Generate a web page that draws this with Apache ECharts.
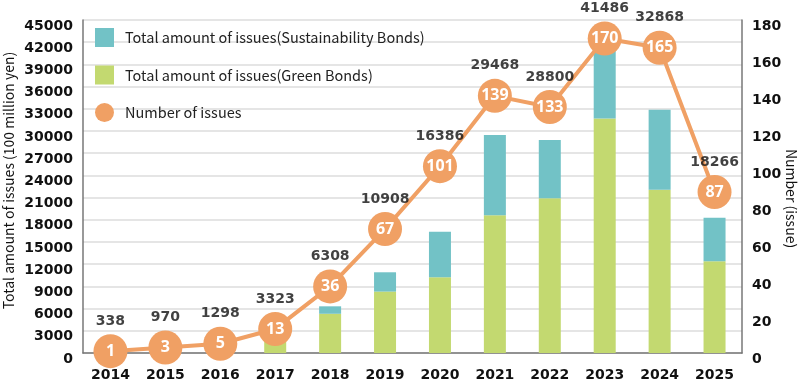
<!DOCTYPE html>
<html>
<head>
<meta charset="utf-8">
<script src="https://cdn.jsdelivr.net/npm/echarts@6/dist/echarts.min.js"></script>
<style>
  html, body { margin: 0; padding: 0; background: #fff; }
  #chart { width: 800px; height: 388px; }
</style>
</head>
<body>
<div id="chart"></div>
<script>
var years = ['2014', '2015', '2016', '2017', '2018', '2019', '2020', '2021', '2022', '2023', '2024', '2025'];
var greenBonds = [338, 970, 1298, 3323, 5300, 8300, 10250, 18600, 20900, 31700, 22050, 12400];
var sustainBonds = [0, 0, 0, 0, 1008, 2608, 6136, 10868, 7900, 9786, 10818, 5866];
var totals = [338, 970, 1298, 3323, 6308, 10908, 16386, 29468, 28800, 41486, 32868, 18266];
var issueCounts = [1, 3, 5, 13, 36, 67, 101, 139, 133, 170, 165, 87];

var FONT = '"Noto Sans CJK JP", "Noto Sans", sans-serif';
var NUM_FONT = '"DejaVu Sans", sans-serif';
var C_SUS = '#72c2c6', C_GREEN = '#c3d970', C_ORANGE = '#f0a064';

var chart = echarts.init(document.getElementById('chart'));

var valueLabel = {
    color: '#111', fontSize: 14, fontWeight: 'bold', margin: 10, fontFamily: NUM_FONT,
    verticalAlign: 'top', lineHeight: 12,
    formatter: function (v) { return String(v); }
};

var option = {
    animation: false,
    textStyle: {fontFamily: FONT},
    grid: {left: 83, right: 58, top: 20, bottom: 35, containLabel: false, outerBoundsMode: 'none'},
    legend: {
        orient: 'vertical', left: 90, top: 23, itemWidth: 19, itemHeight: 19, itemGap: 18.5,
        textStyle: {fontFamily: FONT, fontSize: 14.5, color: '#222', padding: [0, 0, 0, 6]},
        data: [
            {name: 'Total amount of issues(Sustainability Bonds)', icon: 'rect'},
            {name: 'Total amount of issues(Green Bonds)', icon: 'rect'},
            {name: 'Number of issues', icon: 'circle'}
        ]
    },
    xAxis: [{
        type: 'category', data: years,
        axisLine: {lineStyle: {color: '#777', width: 1.5}},
        axisTick: {inside: true, length: 7, lineStyle: {color: '#777'}},
        axisLabel: {color: '#111', fontSize: 14, fontWeight: 'bold', margin: 15, fontFamily: NUM_FONT}
    }],
    yAxis: [{
        type: 'value', min: 0, max: 45000, interval: 3000,
        name: 'Total amount of issues (100 million yen)', nameLocation: 'middle', nameGap: 67, nameMoveOverlap: false,
        nameTextStyle: {fontSize: 14, color: '#111', fontFamily: FONT, padding: [0, 0, 0, 12]},
        axisLine: {show: true, lineStyle: {color: '#777', width: 1.5}},
        axisTick: {show: false},
        axisLabel: valueLabel,
        splitLine: {lineStyle: {color: '#ddd', width: 1.5}}
    }, {
        type: 'value', min: 0, max: 180, interval: 20,
        name: 'Number (issue)', nameLocation: 'middle', nameGap: 42, nameRotate: -90, nameMoveOverlap: false,
        nameTextStyle: {fontSize: 14, color: '#111', fontFamily: FONT, padding: [0, 0, 0, 24]},
        axisLine: {show: true, lineStyle: {color: '#777', width: 1.5}},
        axisTick: {show: false},
        axisLabel: valueLabel,
        splitLine: {show: false}
    }],
    series: [{
        name: 'Total amount of issues(Green Bonds)', type: 'bar', stack: 'amount', barWidth: 22,
        itemStyle: {color: C_GREEN}, data: greenBonds
    }, {
        name: 'Total amount of issues(Sustainability Bonds)', type: 'bar', stack: 'amount', barWidth: 22,
        itemStyle: {color: C_SUS}, data: sustainBonds
    }, {
        name: 'Number of issues', type: 'line', yAxisIndex: 1, z: 5,
        symbol: 'circle', symbolSize: 34,
        lineStyle: {color: C_ORANGE, width: 4},
        itemStyle: {color: C_ORANGE},
        label: {show: true, position: 'inside', color: '#fff', fontSize: 16, fontWeight: 'bold', fontFamily: '"Noto Sans", sans-serif'},
        data: issueCounts
    }, {
        //合計ラベル用（透明）
        name: 'totals', type: 'scatter', yAxisIndex: 1, z: 6, silent: true,
        symbolSize: 34, itemStyle: {color: 'rgba(0,0,0,0)'},
        label: {
            show: true, position: 'top', distance: 6, color: '#111', fontSize: 14, fontWeight: 'bold', fontFamily: NUM_FONT,
            formatter: function (p) { return totals[p.dataIndex]; }
        },
        data: issueCounts
    }]
};

chart.setOption(option);
</script>
</body>
</html>
